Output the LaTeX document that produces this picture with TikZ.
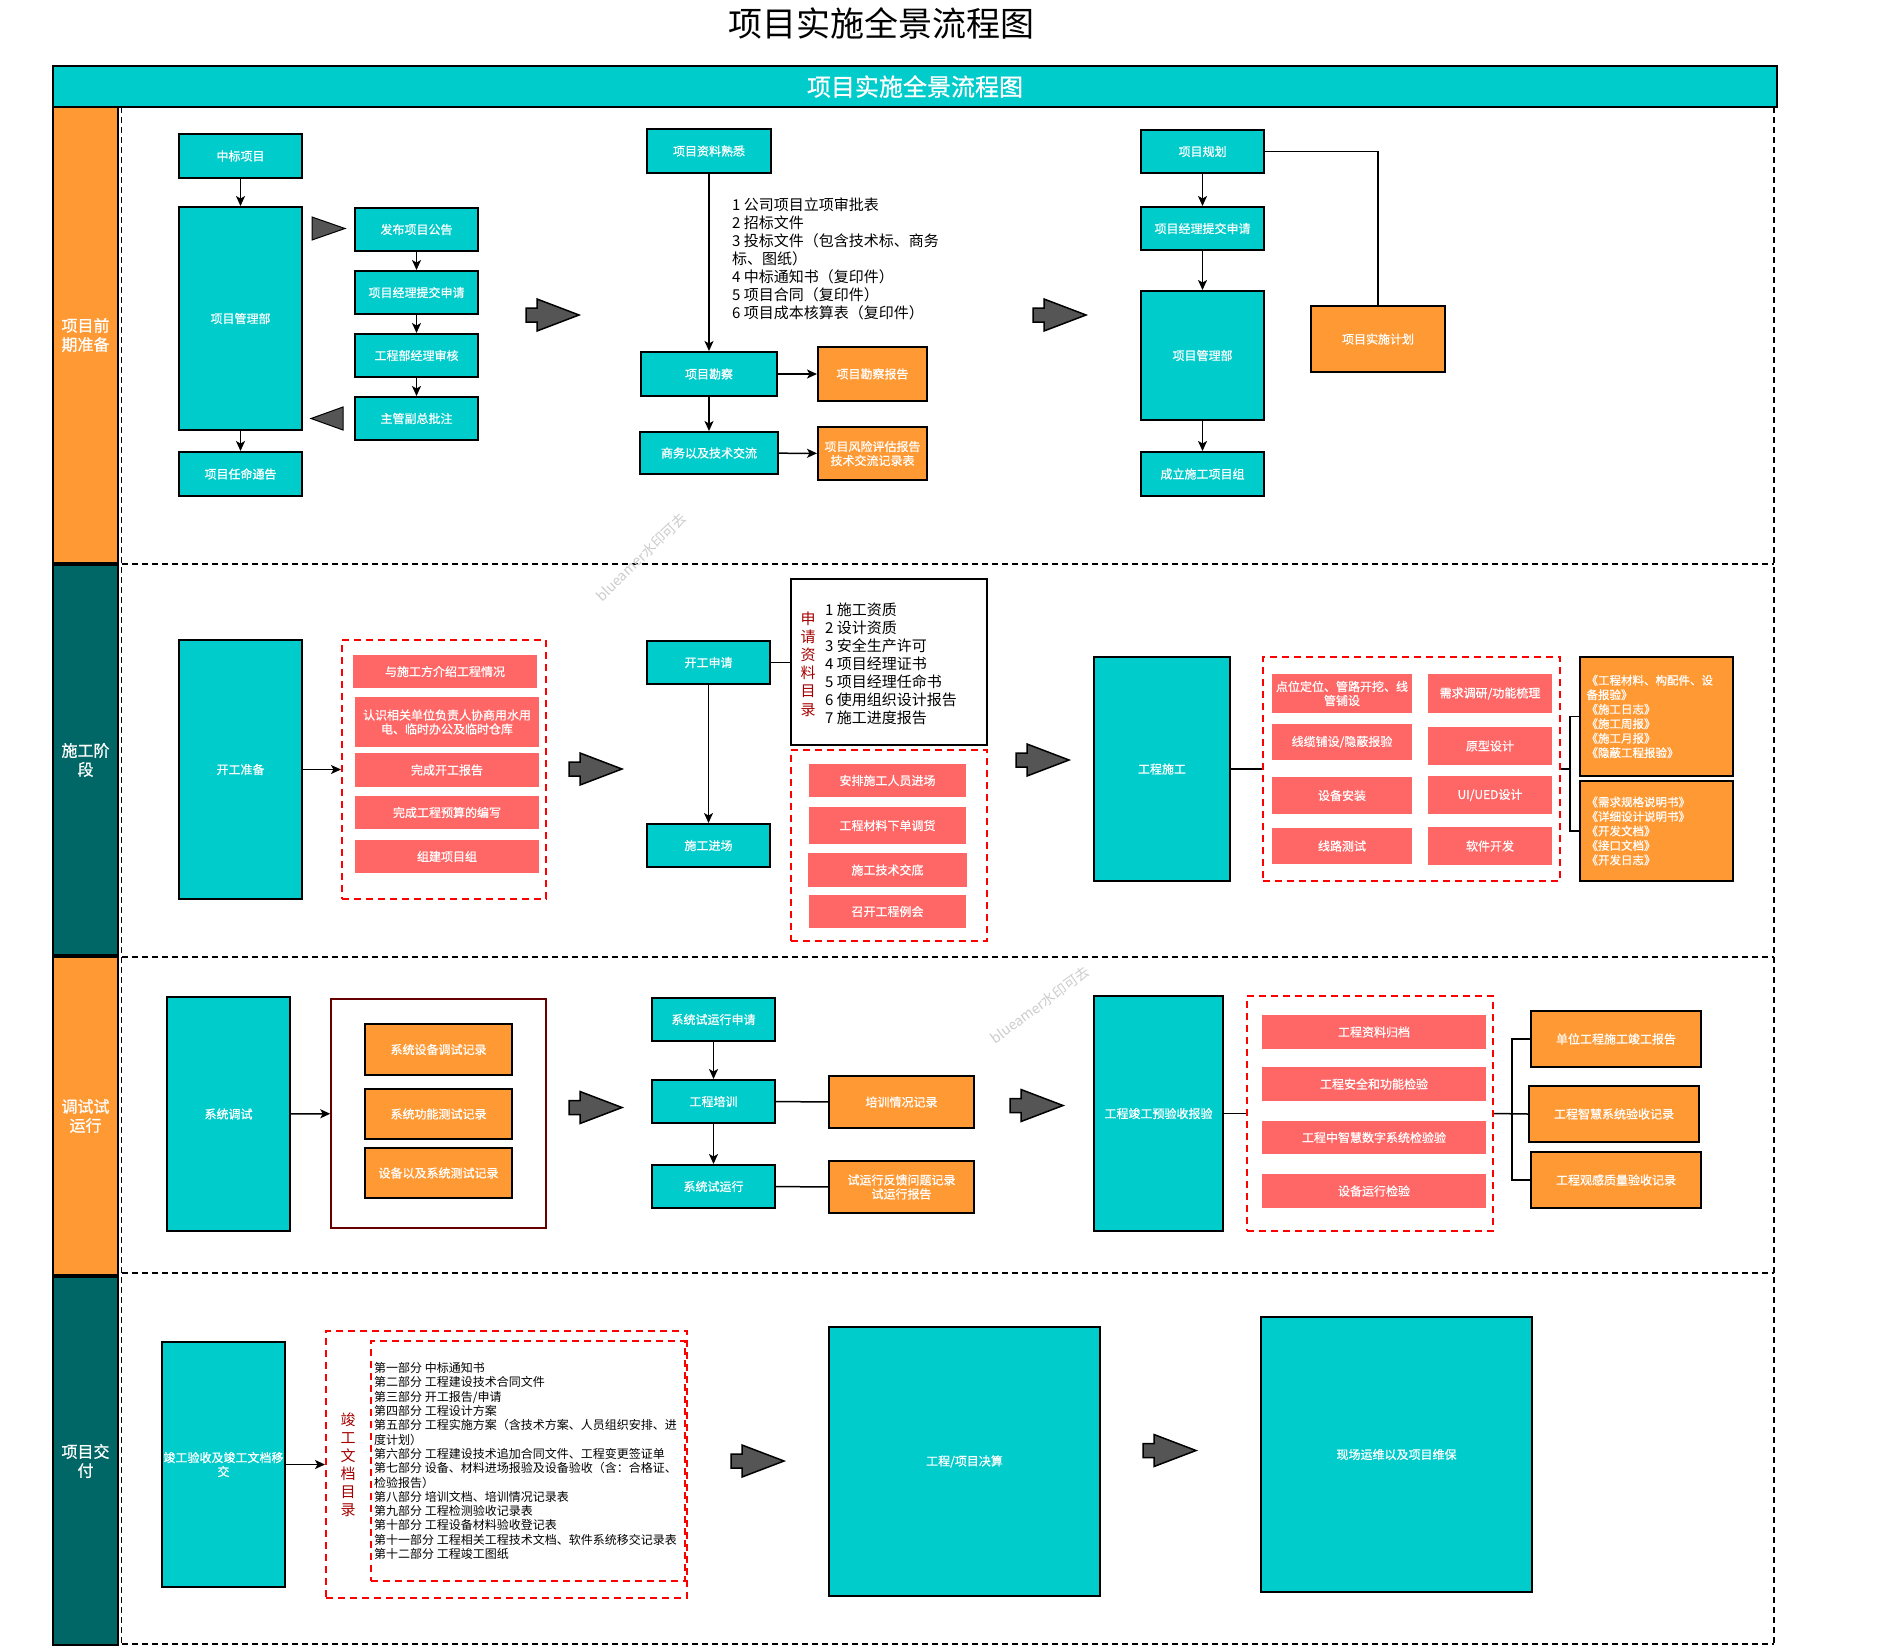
\documentclass[tikz,border=0pt]{standalone}
\usepackage{fontspec}
\setmainfont{Noto Sans CJK SC}
\newfontfamily\boldcjk{Noto Sans CJK SC}[FakeBold=0.8]
\usetikzlibrary{arrows.meta}
\definecolor{tealc}{HTML}{00CCCC}
\definecolor{orangec}{HTML}{FF9933}
\definecolor{darkteal}{HTML}{006666}
\definecolor{redfill}{HTML}{FF6666}
\definecolor{darkred}{HTML}{660000}
\definecolor{listred}{HTML}{A50000}
\definecolor{arrowgray}{HTML}{555555}
\definecolor{wmgray}{HTML}{CCCCCC}
\newcommand{\fs}[2]{\fontsize{#1}{#2}\selectfont}
\newcommand{\mybox}[7]{\node[#1, minimum width={#5-#3}, minimum height={#6-#4}] (#2) at ({(#3+#5)/2},{(#4+#6)/2}) {#7};}
\newcommand{\fatarrow}[2]{\draw[fatarr] ({#1},{#2-7}) -- ({#1+11},{#2-7}) -- ({#1+11},{#2-16}) -- ({#1+53},{#2}) -- ({#1+11},{#2+16}) -- ({#1+11},{#2+7}) -- ({#1},{#2+7}) -- cycle;}
\tikzset{
  tbox/.style={draw=black, line width=2pt, fill=tealc, text=white, font=\boldcjk\fs{12}{14}, align=center, inner sep=1pt},
  obox/.style={draw=black, line width=2pt, fill=orangec, text=white, font=\boldcjk\fs{12}{14}, align=center, inner sep=1pt},
  oboxL/.style={obox, font=\boldcjk\fs{11.5}{14.5}, text width=140pt, align=left},
  rbox/.style={draw=none, fill=redfill, text=white, font=\boldcjk\fs{12}{14}, align=center, inner sep=1pt},
  rdash/.style={draw=red, line width=2pt, dash pattern=on 7pt off 5pt},
  plainbox/.style={draw=black, line width=2pt, fill=white},
  drbox/.style={draw=darkred, line width=1.5pt},
  lanedash/.style={draw=black, line width=1.5pt, dash pattern=on 6pt off 4pt},
  lanelab/.style={draw=black, line width=2pt, text=white, font=\boldcjk\fs{16}{19}, align=center, inner sep=1pt},
  arr/.style={-{Stealth[length=10pt,width=9pt,inset=2.5pt]}, line width=1.5pt},
  ln/.style={line width=1.5pt},
  listtxt/.style={font=\fs{15}{18}, align=left, inner sep=0, anchor=west},
  fatarr/.style={fill=arrowgray, draw=black, line width=1.5pt, line join=miter},
  tri/.style={fill=arrowgray, draw=black, line width=1pt},
  wmark/.style={font=\fs{14}{16}, text=wmgray, inner sep=0}
}
\begin{document}
\begin{tikzpicture}[x=1pt,y=-1pt]
\useasboundingbox (0,0) rectangle (1879,1650);
\fill[white] (0,0) rectangle (1879,1650);

% title and header
\node[font=\fs{34}{40}, inner sep=0] (title) at (881,23) {项目实施全景流程图};
\mybox{draw=black, line width=2pt, fill=tealc, text=white, font=\boldcjk\fs{24}{28}}{bar}{53}{66}{1777}{107}{项目实施全景流程图}

% lane labels
\mybox{lanelab, fill=orangec}{lab1}{53}{107}{118}{563}{项目前\\期准备}
\mybox{lanelab, fill=darkteal}{lab2}{53}{565}{118}{955}{施工阶\\段}
\mybox{lanelab, fill=orangec}{lab3}{53}{957}{118}{1275}{调试试\\运行}
\mybox{lanelab, fill=darkteal}{lab4}{53}{1277}{118}{1645}{项目交\\付}

% lane dashed frames
\draw[lanedash] (121.5,107) -- (121.5,1644);
\draw[lanedash] (1774,107) -- (1774,1644);
\draw[lanedash] (121.5,564) -- (1774,564);
\draw[lanedash] (121.5,957) -- (1774,957);
\draw[lanedash] (121.5,1273) -- (1774,1273);
\draw[lanedash] (121.5,1644) -- (1774,1644);

% watermarks
\node[wmark, rotate=44] (wm1) at (641,557) {blueamer水印可去};
\node[wmark, rotate=36] (wm2) at (1040,1005) {blueamer水印可去};

% ===== Lane 1 =====
\mybox{tbox}{zb}{179}{134}{302}{178}{中标项目}
\mybox{tbox}{glb}{179}{207}{302}{430}{项目管理部}
\mybox{tbox}{rm}{179}{452}{302}{496}{项目任命通告}
\mybox{tbox}{fb}{355}{208}{478}{251}{发布项目公告}
\mybox{tbox}{tj}{355}{271}{478}{314}{项目经理提交申请}
\mybox{tbox}{sh}{355}{334}{478}{377}{工程部经理审核}
\mybox{tbox}{pz}{355}{397}{478}{440}{主管副总批注}
\draw[arr] (zb) -- (glb);
\draw[arr] (glb) -- (rm);
\draw[arr] (fb) -- (tj);
\draw[arr] (tj) -- (sh);
\draw[arr] (sh) -- (pz);
\draw[tri] (312,217) -- (345,228.5) -- (312,240) -- cycle;
\draw[tri] (343,407) -- (311,418.5) -- (343,430) -- cycle;
\fatarrow{526}{315}

\mybox{tbox}{zl}{647}{129}{771}{173}{项目资料熟悉}
\mybox{tbox}{kc}{641}{352}{777}{396}{项目勘察}
\mybox{obox}{kcbg}{818}{347}{927}{401}{项目勘察报告}
\mybox{tbox}{sw}{640}{432}{778}{474}{商务以及技术交流}
\mybox{obox}{fx}{818}{427}{927}{480}{项目风险评估报告\\技术交流记录表}
\node[listtxt] (list1) at (732,259) {1 公司项目立项审批表\\2 招标文件\\3 投标文件（包含技术标、商务\\标、图纸）\\4 中标通知书（复印件）\\5 项目合同（复印件）\\6 项目成本核算表（复印件）};
\draw[arr] (zl) -- (kc);
\draw[arr] (kc) -- (kcbg);
\draw[arr] (kc) -- (sw);
\draw[arr] (sw) -- (fx);
\fatarrow{1033}{315}

\mybox{tbox}{gh}{1141}{130}{1264}{173}{项目规划}
\mybox{tbox}{gsq}{1141}{207}{1264}{250}{项目经理提交申请}
\mybox{tbox}{ggl}{1141}{291}{1264}{420}{项目管理部}
\mybox{tbox}{cl}{1141}{452}{1264}{496}{成立施工项目组}
\mybox{obox}{jh}{1311}{306}{1445}{372}{项目实施计划}
\draw[arr] (gh) -- (gsq);
\draw[arr] (gsq) -- (ggl);
\draw[arr] (ggl) -- (cl);
\draw[ln] (gh.east) -| (jh.north);

% ===== Lane 2 =====
\mybox{tbox}{kgzb}{179}{640}{302}{899}{开工准备}
\mybox{rdash}{rd1}{342}{640}{546}{899}{}
\mybox{rbox}{r11}{353}{655}{537}{688}{与施工方介绍工程情况}
\mybox{rbox}{r12}{355}{697}{539}{747}{认识相关单位负责人协商用水用\\电、临时办公及临时仓库}
\mybox{rbox}{r13}{355}{753}{539}{787}{完成开工报告}
\mybox{rbox}{r14}{355}{796}{539}{829}{完成工程预算的编写}
\mybox{rbox}{r15}{355}{840}{539}{873}{组建项目组}
\draw[arr] (kgzb) -- (rd1);
\fatarrow{569}{769}

\mybox{tbox}{kgsq}{647}{641}{770}{684}{开工申请}
\mybox{tbox}{sgjc}{647}{824}{770}{867}{施工进场}
\mybox{plainbox}{sqml}{791}{579}{987}{745}{}
\node[font=\fs{15}{18.2}, text=listred, align=center, inner sep=0] (sqlab) at (808,664) {申\\请\\资\\料\\目\\录};
\node[listtxt] (list2) at (825,664) {1 施工资质\\2 设计资质\\3 安全生产许可\\4 项目经理证书\\5 项目经理任命书\\6 使用组织设计报告\\7 施工进度报告};
\mybox{rdash}{rd2}{791}{750}{987}{941}{}
\mybox{rbox}{r21}{809}{764}{966}{797}{安排施工人员进场}
\mybox{rbox}{r22}{809}{807}{966}{844}{工程材料下单调货}
\mybox{rbox}{r23}{808}{853}{967}{887}{施工技术交底}
\mybox{rbox}{r24}{809}{895}{966}{928}{召开工程例会}
\draw[arr] (kgsq) -- (sgjc);
\draw[ln] (kgsq.east) -- (kgsq.east -| sqml.west);
\fatarrow{1016}{760}

\mybox{tbox}{gcsg}{1094}{657}{1230}{881}{工程施工}
\mybox{rdash}{rd3}{1263}{657}{1560}{881}{}
\mybox{rbox}{r31}{1272}{674}{1412}{713}{点位定位、管路开挖、线\\管铺设}
\mybox{rbox}{r32}{1272}{724}{1412}{760}{线缆铺设/隐蔽报验}
\mybox{rbox}{r33}{1272}{777}{1412}{814}{设备安装}
\mybox{rbox}{r34}{1272}{828}{1412}{864}{线路测试}
\mybox{rbox}{r35}{1428}{674}{1552}{713}{需求调研/功能梳理}
\mybox{rbox}{r36}{1428}{727}{1552}{765}{原型设计}
\mybox{rbox}{r37}{1428}{776}{1552}{814}{UI/UED设计}
\mybox{rbox}{r38}{1428}{827}{1552}{865}{软件开发}
\mybox{oboxL}{ob1}{1580}{657}{1733}{776}{《工程材料、构配件、设\\备报验》\\《施工日志》\\《施工周报》\\《施工月报》\\《隐蔽工程报验》}
\mybox{oboxL}{ob2}{1580}{781}{1733}{881}{《需求规格说明书》\\《详细设计说明书》\\《开发文档》\\《接口文档》\\《开发日志》}
\draw[ln] (gcsg) -- (rd3);
\coordinate (b1) at (1570,769);
\draw[ln] (rd3.east) -- (b1);
\draw[ln] (ob1.west) -- (ob1.west -| b1) -- (ob2.west -| b1) -- (ob2.west);

% ===== Lane 3 =====
\mybox{tbox}{xtts}{167}{997}{290}{1231}{系统调试}
\mybox{drbox}{xtjl}{331}{999}{546}{1228}{}
\mybox{obox}{o31}{365}{1024}{512}{1075}{系统设备调试记录}
\mybox{obox}{o32}{365}{1089}{512}{1139}{系统功能测试记录}
\mybox{obox}{o33}{365}{1148}{512}{1198}{设备以及系统测试记录}
\draw[arr] (xtts) -- (xtjl);
\fatarrow{569}{1107.5}

\mybox{tbox}{sqsy}{652}{998}{775}{1041}{系统试运行申请}
\mybox{tbox}{gcpx}{652}{1080}{775}{1123}{工程培训}
\mybox{tbox}{xtsy}{652}{1165}{775}{1208}{系统试运行}
\mybox{obox}{pxjl}{829}{1076}{974}{1128}{培训情况记录}
\mybox{obox}{fkjl}{829}{1161}{974}{1213}{试运行反馈问题记录\\试运行报告}
\draw[arr] (sqsy) -- (gcpx);
\draw[arr] (gcpx) -- (xtsy);
\draw[ln] (gcpx) -- (pxjl);
\draw[ln] (xtsy) -- (fkjl);
\fatarrow{1010}{1105.5}

\mybox{tbox}{jgys}{1094}{996}{1223}{1231}{工程竣工预验收报验}
\mybox{rdash}{rd5}{1247}{996}{1493}{1231}{}
\mybox{rbox}{r51}{1262}{1015}{1486}{1049}{工程资料归档}
\mybox{rbox}{r52}{1262}{1067}{1486}{1101}{工程安全和功能检验}
\mybox{rbox}{r53}{1262}{1121}{1486}{1154}{工程中智慧数字系统检验验}
\mybox{rbox}{r54}{1262}{1174}{1486}{1208}{设备运行检验}
\mybox{obox}{ys1}{1531}{1011}{1701}{1067}{单位工程施工竣工报告}
\mybox{obox}{ys2}{1529}{1086}{1699}{1142}{工程智慧系统验收记录}
\mybox{obox}{ys3}{1531}{1152}{1701}{1208}{工程观感质量验收记录}
\draw[ln] (jgys) -- (rd5);
\coordinate (b2) at (1512,1113.5);
\draw[ln] (rd5.east) -- (ys2.west);
\draw[ln] (ys1.west) -- (ys1.west -| b2) -- (ys3.west -| b2) -- (ys3.west);

% ===== Lane 4 =====
\mybox{tbox}{jgwd}{162}{1342}{285}{1587}{竣工验收及竣工文档移\\交}
\mybox{rdash}{wdo}{326}{1331}{687}{1598}{}
\mybox{rdash}{wdi}{371}{1341}{685}{1581}{}
\node[font=\fs{15}{18}, text=listred, align=center, inner sep=0] (wdlab) at (348,1465) {竣\\工\\文\\档\\目\\录};
\node[listtxt, font=\fs{12}{14.3}] (list4) at (374,1461) {第一部分 中标通知书\\第二部分 工程建设技术合同文件\\第三部分 开工报告/申请\\第四部分 工程设计方案\\第五部分 工程实施方案（含技术方案、人员组织安排、进\\度计划）\\第六部分 工程建设技术追加合同文件、工程变更签证单\\第七部分 设备、材料进场报验及设备验收（含：合格证、\\检验报告）\\第八部分 培训文档、培训情况记录表\\第九部分 工程检测验收记录表\\第十部分 工程设备材料验收登记表\\第十一部分 工程相关工程技术文档、软件系统移交记录表\\第十二部分 工程竣工图纸};
\draw[arr] (jgwd) -- (wdo);
\fatarrow{731}{1461}
\mybox{tbox}{js}{829}{1327}{1100}{1596}{工程/项目决算}
\fatarrow{1143}{1450.5}
\mybox{tbox}{yw}{1261}{1317}{1532}{1592}{现场运维以及项目维保}
\end{tikzpicture}
\end{document}
